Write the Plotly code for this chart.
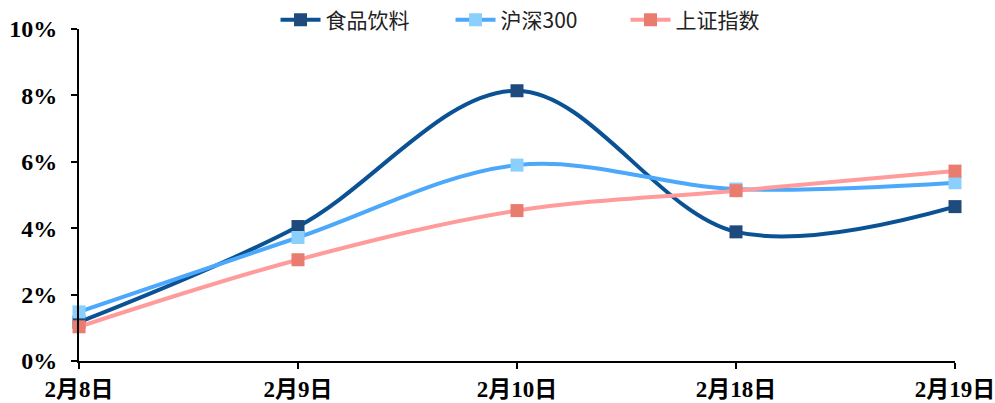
import plotly.graph_objects as go

# 日期类别与三条涨跌幅序列（%）
dates = ["2月8日", "2月9日", "2月10日", "2月18日", "2月19日"]
food_bev = [1.17, 4.05, 8.14, 3.89, 4.65]
hs300 = [1.48, 3.72, 5.90, 5.18, 5.37]
sh_index = [1.03, 3.05, 4.53, 5.13, 5.72]

series = [
    ("食品饮料", food_bev, "#0b5294", "#1f4a7e"),
    ("沪深300", hs300, "#4ba8fb", "#8bd0fc"),
    ("上证指数", sh_index, "#ff9b9b", "#e97c6e"),
]

fig = go.Figure()
for name, vals, line_c, mk_c in series:
    fig.add_trace(go.Scatter(
        x=dates, y=vals, name=name, mode="lines+markers",
        line=dict(color=line_c, width=4, shape="spline", smoothing=1.0),
        marker=dict(symbol="square", size=13, color=mk_c),
        cliponaxis=False,
    ))

tick_font = dict(family="Liberation Serif, Noto Sans CJK SC", size=23, color="#000")

fig.update_layout(
    width=995, height=403,
    margin=dict(l=79, r=40, t=29, b=42, autoexpand=False),
    paper_bgcolor="white", plot_bgcolor="white",
    showlegend=True,
    legend=dict(
        orientation="h", x=0.524, xanchor="center",
        y=1.027, yanchor="middle",
        font=dict(family="Noto Sans CJK SC", size=21, color="#222"),
        entrywidth=120, itemwidth=40, tracegroupgap=0,
    ),
)

fig.update_xaxes(
    type="category", range=[0, 4],
    showline=True, linecolor="#000", linewidth=2,
    ticks="outside", ticklen=6, tickwidth=2, tickcolor="#000",
    tickfont=tick_font,
    tickvals=dates, ticktext=["<b>%s</b>" % d for d in dates],
    showgrid=False, zeroline=False,
)
fig.update_yaxes(
    range=[0, 10], dtick=2,
    tickvals=[0, 2, 4, 6, 8, 10],
    ticktext=["<b>%d%%</b>" % v for v in [0, 2, 4, 6, 8, 10]],
    showline=True, linecolor="#000", linewidth=2,
    ticks="outside", ticklen=6, tickwidth=2, tickcolor="#000",
    tickfont=dict(family="Liberation Serif", size=24, color="#000"),
    ticklabelstandoff=9,
    showgrid=False, zeroline=False,
)

fig.write_html("out.html")
